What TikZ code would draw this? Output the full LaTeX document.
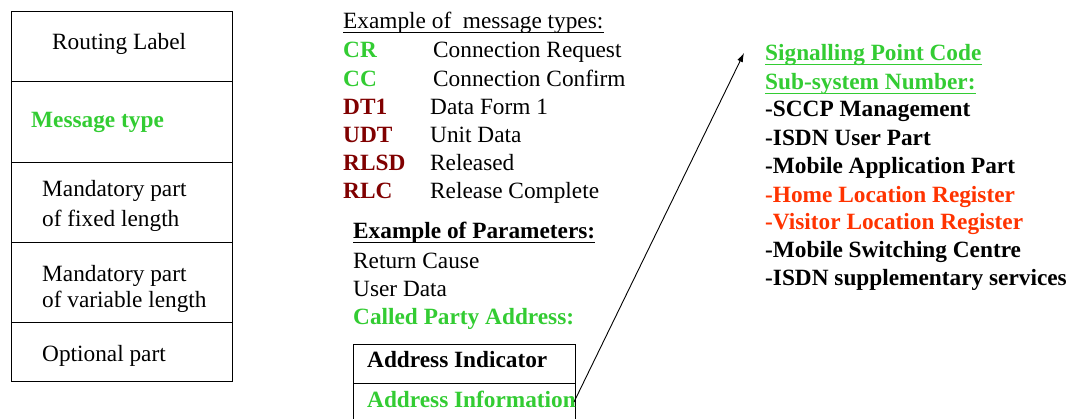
\documentclass[tikz,border=0pt]{standalone}
\usepackage{fontspec}
\setmainfont{LiberationSerif-Regular.ttf}[BoldFont=LiberationSerif-Bold.ttf]
\usetikzlibrary{arrows.meta}
\definecolor{sgreen}{RGB}{51,204,51}
\definecolor{dred}{RGB}{128,0,0}
\definecolor{ored}{RGB}{255,51,0}
\begin{document}
\begin{tikzpicture}[x=1pt,y=-1pt,
  txt/.style={anchor=base west,inner sep=0pt,font=\rmfamily\fontsize{23.3}{28}\selectfont},
  btxt/.style={anchor=base west,inner sep=0pt,font=\rmfamily\fontsize{23.3}{28}\selectfont\bfseries},
  frame/.style={draw=black,line width=1pt},
  uline/.style={line width=0.9pt},
  pointer/.style={draw=black,line width=0.9pt,-{Latex[length=9pt,width=6pt]}}]
\useasboundingbox (0,0) rectangle (1076,419);

% message structure (left column)
\draw[frame] (11,12) rectangle (232,382);
\foreach \yy in {82,163,243,323} \draw[frame] (11,\yy) -- (232,\yy);
\node[txt] (rl) at (52,50) {Routing Label};
\node[btxt,text=sgreen] (mt) at (31,128) {Message type};
\node[txt] (mf1) at (42,197) {Mandatory part};
\node[txt] (mf2) at (42,227) {of fixed length};
\node[txt] (mv1) at (42,282) {Mandatory part};
\node[txt] (mv2) at (42,308) {of variable length};
\node[txt] (op) at (42,362) {Optional part};

% message types
\node[txt] (ex1) at (343,29) {Example of\ \ message types:};
\draw[uline,draw=black] ([yshift=-3pt]ex1.base west) -- ([yshift=-3pt]ex1.base east);
\node[btxt,text=sgreen] (cr) at (343,58) {CR};
\node[txt] (crd) at (433,58) {Connection Request};
\node[btxt,text=sgreen] (cc) at (343,87) {CC};
\node[txt] (ccd) at (433,87) {Connection Confirm};
\node[btxt,text=dred] (dt) at (343,115) {DT1};
\node[txt] (dtd) at (430,115) {Data Form 1};
\node[btxt,text=dred] (udt) at (343,143) {UDT};
\node[txt] (udtd) at (430,143) {Unit Data};
\node[btxt,text=dred] (rlsd) at (343,171) {RLSD};
\node[txt] (rlsdd) at (430,171) {Released};
\node[btxt,text=dred] (rlc) at (343,199) {RLC};
\node[txt] (rlcd) at (430,199) {Release Complete};

% parameters
\node[btxt] (ex2) at (353,239) {Example of Parameters:};
\draw[uline,draw=black] ([yshift=-3pt]ex2.base west) -- ([yshift=-3pt]ex2.base east);
\node[txt] (rc) at (353,269) {Return Cause};
\node[txt] (ud) at (353,297) {User Data};
\node[btxt,text=sgreen] (cpa) at (353,325) {Called Party Address:};

% called party address layout (open at the bottom)
\draw[frame] (353,419) -- (353,345) -- (575,345) -- (575,419);
\draw[frame] (353,384) -- (575,384);
\node[btxt] (ai) at (367,368) {Address Indicator};
\node[btxt,text=sgreen] (ainf) at (367,407) {Address Information};

% address information contents
\node[btxt,text=sgreen] (spc) at (765,61) {Signalling Point Code};
\draw[uline,draw=sgreen] ([yshift=-3pt]spc.base west) -- ([yshift=-3pt]spc.base east);
\node[btxt,text=sgreen] (ssn) at (765,90) {Sub-system Number:};
\draw[uline,draw=sgreen] ([yshift=-3pt]ssn.base west) -- ([yshift=-3pt]ssn.base east);
\node[btxt] (s1) at (765,117) {-SCCP Management};
\node[btxt] (s2) at (765,146) {-ISDN User Part};
\node[btxt] (s3) at (765,174) {-Mobile Application Part};
\node[btxt,text=ored] (s4) at (765,203) {-Home Location Register};
\node[btxt,text=ored] (s5) at (765,230) {-Visitor Location Register};
\node[btxt] (s6) at (765,258) {-Mobile Switching Centre};
\node[btxt] (s7) at (765,286) {-ISDN supplementary services};

\coordinate (from) at (574,402);
\coordinate (to) at (744,53);
\draw[pointer] (from) -- (to);
\end{tikzpicture}
\end{document}
